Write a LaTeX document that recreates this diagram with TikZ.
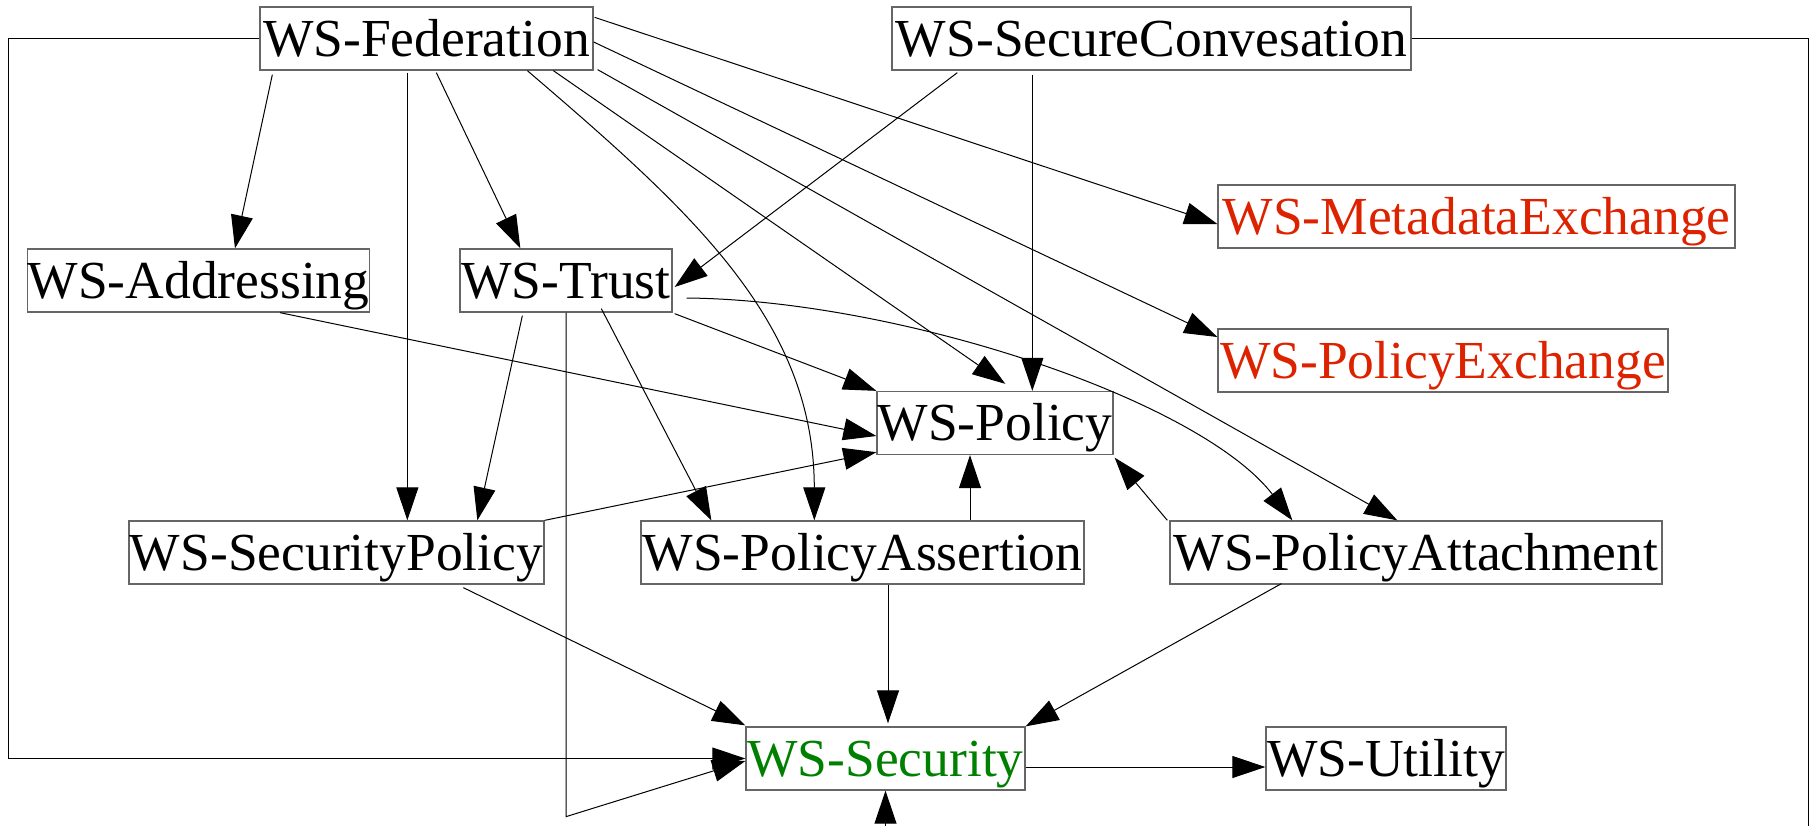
\documentclass[tikz,border=0pt]{standalone}
\usepackage{fontspec}
\setmainfont{Liberation Serif}
\usetikzlibrary{arrows.meta,calc}
\definecolor{specred}{RGB}{221,34,0}
\definecolor{specgreen}{RGB}{0,128,0}
\begin{document}
\begin{tikzpicture}[x=1pt,y=-1pt,
  box/.style={draw=black!60,line width=1.3pt,fill=white,inner xsep=0pt,inner ysep=7pt,
    text height=42pt,text depth=7pt,minimum height=63pt,
    font=\fontsize{53.5}{60}\selectfont},
  edge/.style={line width=1pt,-{Triangle[length=33pt,width=22pt]}}
]
\useasboundingbox (0,0) rectangle (1810,825);

% specifications
\node[box,minimum width=333pt] (fed)    at (426.5,38.5)  {WS-Federation};
\node[box,minimum width=519pt] (sc)     at (1151.5,38.5) {WS-SecureConvesation};
\node[box,minimum width=517pt,text=specred] (mex) at (1476.5,216.5) {WS-MetadataExchange};
\node[box,minimum width=341pt] (add)    at (198.5,280.5) {WS-Addressing};
\node[box,minimum width=212pt] (trust)  at (566,280.5)   {WS-Trust};
\node[box,minimum width=450pt,text=specred] (pex) at (1443,360.5) {WS-PolicyExchange};
\node[box,minimum width=236pt] (pol)    at (995,423)     {WS-Policy};
\node[box,minimum width=415pt] (secpol) at (336.5,552.5) {WS-SecurityPolicy};
\node[box,minimum width=443pt] (pa)     at (862.5,552.5) {WS-PolicyAssertion};
\node[box,minimum width=492pt] (patt)   at (1416,552.5)  {WS-PolicyAttachment};
\node[box,minimum width=279pt,text=specgreen] (sec) at (885.5,758.5) {WS-Security};
\node[box,minimum width=240pt] (util)   at (1386,758.5)  {WS-Utility};

% WS-Federation
\draw[edge] ($(fed.south west)+(13,4)$)  -- ($(add.north west)+(208,0)$);
\draw[edge] ($(fed.south west)+(148,2)$) -- ($(secpol.north west)+(279,0)$);
\draw[edge] ($(fed.south west)+(177,2)$) -- ($(trust.north west)+(61,0)$);
\draw[edge] ($(fed.south west)+(268,0)$) .. controls (690,210) and (814,320) .. ($(pa.north west)+(174,0)$);
\draw[edge] ($(fed.south west)+(294,0)$) -- ($(pol.north west)+(129,-7)$);
\draw[edge] ($(fed.south east)+(4,-1)$)  -- ($(patt.north west)+(228,0)$);
\draw[edge] ($(fed.east)+(0,3.5)$)       -- ($(pex.west)+(0,-23.5)$);
\draw[edge] ($(fed.north east)+(1,11)$)  -- ($(mex.west)+(0,7.5)$);
\draw[edge] (fed.west) -- ++(-251,0) |- (sec.west);

% WS-SecureConvesation
\draw[edge] ($(sc.south west)+(66,2)$)  -- ($(trust.east)+(2,6.5)$);
\draw[edge] ($(sc.south west)+(141,4)$) -- ($(pol.north west)+(156,0)$);
\begin{scope}
  \clip (0,0) rectangle (1810,825);
  \draw[edge] (sc.east) -- ++(397,0) -- ++(0,862) -| (sec.south);
\end{scope}

% WS-Addressing
\draw[edge] ($(add.south west)+(253,0)$) -- ($(pol.west)+(0,13)$);

% WS-Trust
\draw[edge] ($(trust.south west)+(63,3)$)  -- ($(secpol.north west)+(349,0)$);
\draw[edge] ($(trust.south west)+(142,-4)$) -- ($(pa.north west)+(71,0)$);
\draw[edge] ($(trust.south east)+(2,1)$)   -- (pol.north west);
\draw[edge] ($(trust.east)+(14,17.5)$) .. controls (900,300) and (1200,400) .. ($(patt.north west)+(123,0)$);
\draw[edge] (trust.south) -- ++(0,504) -- ($(sec.west)+(0,2.5)$);

% WS-SecurityPolicy
\draw[edge] (secpol.north east) -- ($(pol.south west)+(0,-3)$);
\draw[edge] ($(secpol.south west)+(335,3)$) -- ($(sec.north west)+(0,-1)$);

% WS-PolicyAssertion
\draw[edge] ($(pa.north)+(107.5,0)$) -- ($(pol.south)+(-25,0)$);
\draw[edge] ($(pa.south)+(25.5,0)$)  -- ($(sec.north)+(2.5,-3)$);

% WS-PolicyAttachment
\draw[edge] ($(patt.north west)+(-2,0)$) -- ($(pol.south east)+(1,2.5)$);
\draw[edge] ($(patt.south west)+(112,-1)$) -- (sec.north east);

% WS-Security
\draw[edge] ($(sec.east)+(0,8.5)$) -- ($(util.west)+(0,8.5)$);
\end{tikzpicture}
\end{document}
